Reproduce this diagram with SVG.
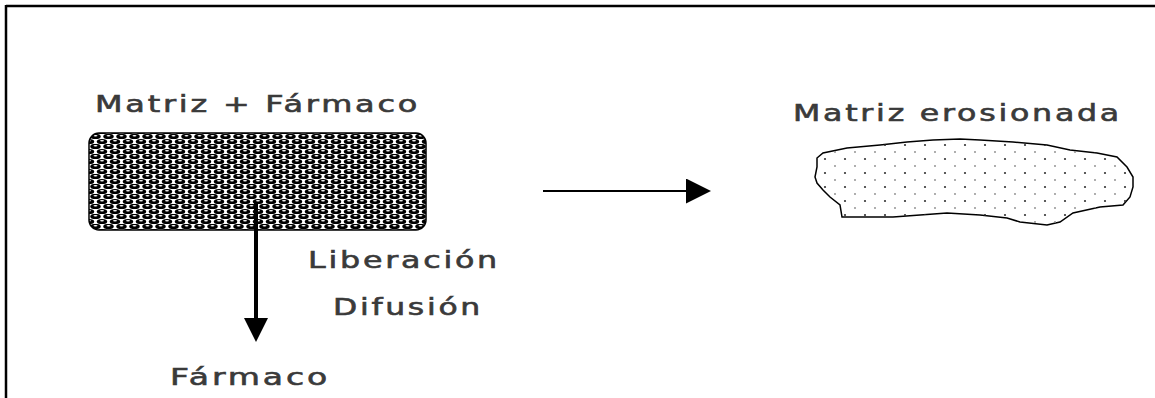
<svg xmlns="http://www.w3.org/2000/svg" width="1155" height="398" viewBox="0 0 1155 398">
  <style>
    .lbl { font-family: "DejaVu Sans", "Liberation Sans", Arial, sans-serif; font-size: 23px; fill: #3a3a3a; stroke: #3a3a3a; stroke-width: 0.6; letter-spacing: 2px; }
    .frame { stroke: #000; stroke-width: 2.5; fill: none; }
  </style>
  <defs>
    <pattern id="mesh" width="13" height="10" patternUnits="userSpaceOnUse" x="89" y="134">
      <rect width="13" height="10" fill="#fff"/>
      <ellipse cx="6.5" cy="2.5" rx="5.2" ry="2.6" fill="#000"/>
      <ellipse cx="0" cy="7.5" rx="5.2" ry="2.6" fill="#000"/>
      <ellipse cx="13" cy="7.5" rx="5.2" ry="2.6" fill="#000"/>
      <ellipse cx="6.5" cy="1.7" rx="2" ry="0.8" fill="#fff"/>
      <ellipse cx="0" cy="6.7" rx="2" ry="0.8" fill="#fff"/>
      <ellipse cx="13" cy="6.7" rx="2" ry="0.8" fill="#fff"/>
    </pattern>
    <pattern id="dots" width="20" height="14" patternUnits="userSpaceOnUse" x="3" y="3">
      <circle cx="2" cy="2" r="1.1" fill="#333"/>
      <circle cx="12" cy="9" r="0.9" fill="#888"/>
    </pattern>
    <marker id="triV" viewBox="0 0 10 10" refX="0" refY="5" markerUnits="userSpaceOnUse" markerWidth="24" markerHeight="40" orient="auto">
      <path d="M0,0 L10,5 L0,10 Z" fill="#000"/>
    </marker>
    <marker id="triH" viewBox="0 0 10 10" refX="0" refY="5" markerUnits="userSpaceOnUse" markerWidth="38" markerHeight="25" orient="auto">
      <path d="M0,0 L10,5 L0,10 Z" fill="#000"/>
    </marker>
  </defs>

  <g id="frame">
    <line class="frame" x1="6" y1="6" x2="1155" y2="6"/>
    <line class="frame" x1="6" y1="5" x2="6" y2="398"/>
  </g>

  <g id="matriz-farmaco">
    <text class="lbl" x="95" y="112" textLength="325" lengthAdjust="spacingAndGlyphs">Matriz + Fármaco</text>
    <rect x="89" y="133" width="337" height="97" rx="10" ry="10" fill="url(#mesh)" stroke="#000" stroke-width="1.5"/>
  </g>

  <g id="matriz-erosionada">
    <text class="lbl" x="793" y="121" textLength="329" lengthAdjust="spacingAndGlyphs">Matriz erosionada</text>
    <path d="M817,158 L823,153 L847,148 L880,145 L907,142 L933,140 L960,139 L980,140 L1013,142 L1047,145 L1070,150 L1097,153 L1117,157 L1127,167 L1133,177 L1133,187 L1130,197 L1123,205 L1100,207 L1073,213 L1060,222 L1047,225 L1020,222 L1007,218 L980,215 L947,213 L920,215 L893,217 L863,217 L842,217 L840,205 L830,197 L823,190 L817,183 L815,177 L817,167 Z" fill="#fff" stroke="#000" stroke-width="1.5"/>
    <path d="M817,158 L823,153 L847,148 L880,145 L907,142 L933,140 L960,139 L980,140 L1013,142 L1047,145 L1070,150 L1097,153 L1117,157 L1127,167 L1133,177 L1133,187 L1130,197 L1123,205 L1100,207 L1073,213 L1060,222 L1047,225 L1020,222 L1007,218 L980,215 L947,213 L920,215 L893,217 L863,217 L842,217 L840,205 L830,197 L823,190 L817,183 L815,177 L817,167 Z" fill="url(#dots)" stroke="none"/>
  </g>

  <g id="farmaco">
    <text class="lbl" x="170" y="385" textLength="160" lengthAdjust="spacingAndGlyphs">Fármaco</text>
  </g>

  <g id="labels">
    <text class="lbl" x="308" y="268" textLength="192" lengthAdjust="spacingAndGlyphs">Liberación</text>
    <text class="lbl" x="333" y="315" textLength="150" lengthAdjust="spacingAndGlyphs">Difusión</text>
  </g>

  <g id="connectors">
    <line x1="256" y1="202" x2="256" y2="318" stroke="#000" stroke-width="4" marker-end="url(#triV)"/>
    <line x1="543" y1="191" x2="686" y2="191" stroke="#000" stroke-width="2" marker-end="url(#triH)"/>
  </g>
</svg>
